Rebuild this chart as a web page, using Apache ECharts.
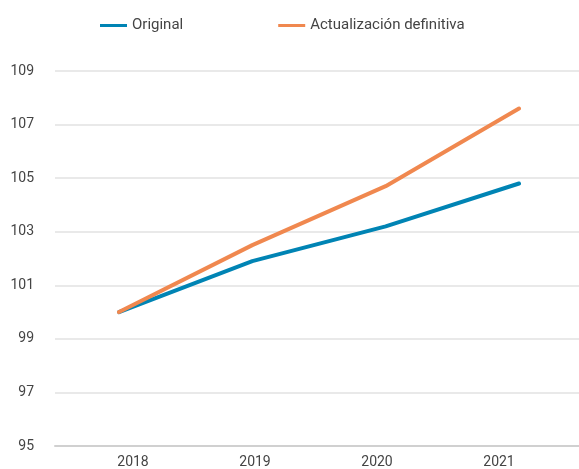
<!DOCTYPE html>
<html>
<head>
<meta charset="utf-8">
<script src="https://cdn.jsdelivr.net/npm/echarts@6/dist/echarts.min.js"></script>
<style>
  html, body { margin: 0; padding: 0; background: #fff; }
  #chart { width: 579px; height: 469px; }
</style>
</head>
<body>
<div id="chart"></div>
<script>
// datos
const years = ['2018', '2019', '2020', '2021'];
const original = [100, 101.9, 103.2, 104.8];
const actualizacion = [100, 102.5, 104.7, 107.6];

const blue = '#0084B4';
const orange = '#F0884F';

const chart = echarts.init(document.getElementById('chart'));

// eje y comun (mismo rango en las tres rejillas)
const yBase = (gridIndex, show) => ({
  type: 'value',
  gridIndex: gridIndex,
  min: 95,
  max: 109,
  interval: 2,
  axisLine: { show: false },
  axisTick: { show: false },
  axisLabel: { show: show, color: '#444', fontSize: 14, margin: 21 },
  splitLine: { show: show, lineStyle: { color: '#e2e2e2', width: 1.5 } }
});

chart.setOption({
  animation: false,
  textStyle: { fontFamily: 'Roboto' },
  // leyenda
  legend: {
    top: 13,
    left: 95,
    itemWidth: 27,
    itemHeight: 3,
    itemGap: 95,
    icon: 'rect',
    textStyle: { color: '#444', fontSize: 15 },
    data: ['Original', 'Actualización definitiva']
  },
  // 0: lineas, 1: etiquetas del eje x, 2: rejilla de fondo + eje y
  grid: [
    { left: 119, right: 60, top: 71, bottom: 23 },
    { left: 72, right: 19, top: 71, bottom: 23 },
    { left: 55, right: 0, top: 71, bottom: 23 }
  ],
  xAxis: [
    {
      type: 'category',
      gridIndex: 0,
      boundaryGap: false,
      data: years,
      axisLine: { show: false },
      axisTick: { show: false },
      axisLabel: { show: false }
    },
    {
      type: 'category',
      gridIndex: 1,
      boundaryGap: true,
      data: years,
      axisLine: { show: false },
      axisTick: { show: false },
      axisLabel: { color: '#444', fontSize: 14, margin: 10 }
    },
    {
      type: 'category',
      gridIndex: 2,
      data: years,
      axisLine: { lineStyle: { color: '#d0d0d0', width: 2 } },
      axisTick: { show: false },
      axisLabel: { show: false }
    }
  ],
  yAxis: [yBase(0, false), yBase(1, false), yBase(2, true)],
  series: [
    {
      name: 'Original',
      type: 'line',
      xAxisIndex: 0,
      yAxisIndex: 0,
      data: original,
      showSymbol: false,
      color: blue,
      lineStyle: { width: 4, cap: 'round', join: 'round' },
      z: 3
    },
    {
      name: 'Actualización definitiva',
      type: 'line',
      xAxisIndex: 0,
      yAxisIndex: 0,
      data: actualizacion,
      showSymbol: false,
      color: orange,
      lineStyle: { width: 4, cap: 'round', join: 'round' },
      z: 3
    }
  ]
});
</script>
</body>
</html>
